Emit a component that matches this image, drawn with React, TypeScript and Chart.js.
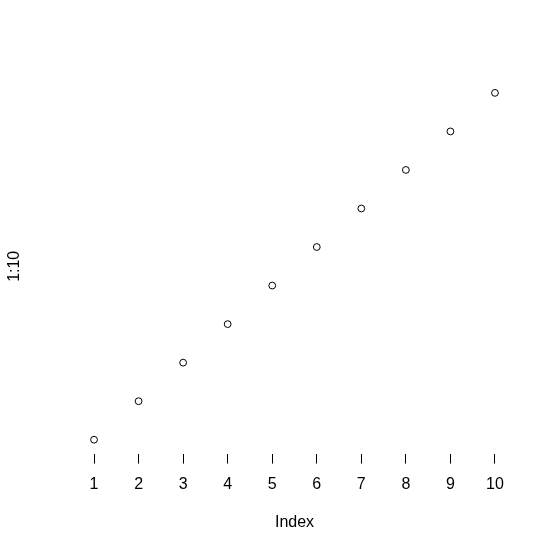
import React, { useEffect, useRef } from "react";
import { Chart, registerables } from "chart.js";

Chart.register(...registerables);

const indexValues = [1, 2, 3, 4, 5, 6, 7, 8, 9, 10];
const seriesValues = [1, 2, 3, 4, 5, 6, 7, 8, 9, 10];
const xTicks = [1, 2, 3, 4, 5, 6, 7, 8, 9, 10];
const xTitle = "Index";
const yTitle = "1:10";

const FONT = "'Liberation Sans', Arial, sans-serif";

export default function App() {
  const ref = useRef<HTMLCanvasElement | null>(null);
  useEffect(() => {
    if (!ref.current) return;
    const chart = new Chart(ref.current, {
      type: "scatter",
      data: {
        datasets: [
          {
            data: indexValues.map((x, i) => ({ x, y: seriesValues[i] })),
            pointStyle: "circle",
            pointRadius: 3.4,
            pointHoverRadius: 3.4,
            pointBorderWidth: 1,
            pointBorderColor: "#000",
            pointBackgroundColor: "rgba(0,0,0,0)",
            showLine: false,
          },
        ],
      },
      options: {
        animation: false,
        responsive: false,
        events: [],
        layout: { padding: { left: 1.4, right: 42, top: 79, bottom: 0 } },
        plugins: { legend: { display: false }, tooltip: { enabled: false } },
        scales: {
          x: {
            type: "linear",
            min: 0.64,
            max: 10.36,
            afterBuildTicks: (axis: any) => {
              axis.ticks = xTicks.map((v) => ({ value: v }));
            },
            border: { display: false },
            grid: {
              display: true,
              drawOnChartArea: false,
              drawTicks: true,
              tickLength: 10,
              tickWidth: 1,
              tickColor: "#000",
            },
            ticks: {
              color: "#000",
              padding: 11,
              font: { family: FONT, size: 16 },
              maxRotation: 0,
              autoSkip: false,
            },
            title: {
              display: true,
              text: xTitle,
              color: "#000",
              font: { family: FONT, size: 16 },
              padding: { top: 8, bottom: 20 },
            },
          },
          y: {
            type: "linear",
            min: 0.64,
            max: 10.36,
            border: { display: false },
            grid: { display: false, drawTicks: false },
            ticks: { display: false },
            title: {
              display: true,
              text: yTitle,
              color: "#000",
              font: { family: FONT, size: 16 },
              padding: { top: 4, bottom: 53.4 },
            },
          },
        },
      },
    });
    return () => chart.destroy();
  }, []);
  return (
    <div style={{ position: "absolute", left: 0, top: 0, width: 553, height: 552 }}>
      <canvas ref={ref} width={553} height={552} style={{ display: "block" }} />
    </div>
  );
}
